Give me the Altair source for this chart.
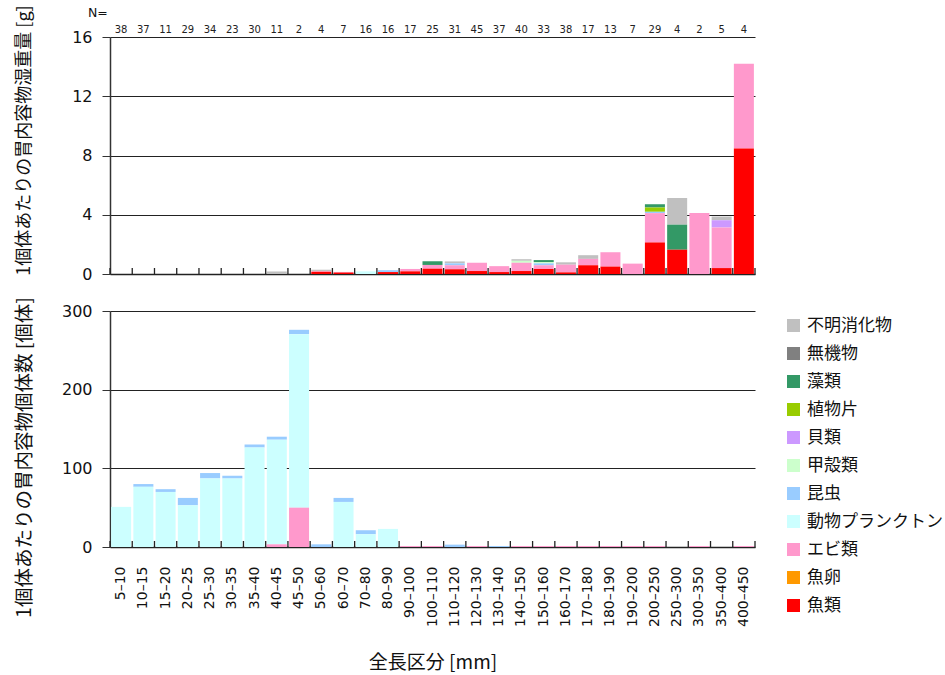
import altair as alt
import pandas as pd

# Total-length classes (mm) and number of fish examined in each
classes = ["5–10", "10–15", "15–20", "20–25", "25–30", "30–35", "35–40", "40–45",
           "45–50", "50–60", "60–70", "70–80", "80–90", "90–100", "100–110",
           "110–120", "120–130", "130–140", "140–150", "150–160", "160–170",
           "170–180", "180–190", "190–200", "200–250", "250–300", "300–350",
           "350–400", "400–450"]
n_fish = [38, 37, 11, 29, 34, 23, 30, 11, 2, 4, 7, 16, 16, 17, 25, 31, 45, 37, 40,
          33, 38, 17, 13, 7, 29, 4, 2, 5, 4]

# Food categories (legend order, top to bottom) and their colours
items = ["不明消化物", "無機物", "藻類", "植物片", "貝類", "甲殻類", "昆虫",
         "動物プランクトン", "エビ類", "魚卵", "魚類"]
colors = ["#C0C0C0", "#808080", "#339966", "#99CC00", "#CC99FF", "#CCFFCC",
          "#99CCFF", "#CCFFFF", "#FF99CC", "#FF9900", "#FF0000"]

# Wet weight of stomach contents per fish [g]
w_unknown = [0, 0, 0, 0, 0, 0, 0, 0.17, 0, 0.1, 0, 0, 0, 0, 0, 0.13, 0, 0, 0.11, 0,
             0.16, 0.25, 0, 0, 0, 1.8, 0, 0.25, 0]
w_inorganic = [0, 0, 0, 0, 0, 0, 0, 0, 0, 0, 0, 0, 0, 0, 0, 0, 0, 0, 0, 0, 0, 0, 0,
               0, 0, 0, 0, 0, 0]
w_algae = [0, 0, 0, 0, 0, 0, 0, 0, 0, 0, 0, 0, 0, 0, 0.25, 0, 0, 0, 0, 0.13, 0, 0,
           0, 0, 0.22, 1.69, 0, 0, 0]
w_plant = [0, 0, 0, 0, 0, 0, 0, 0, 0, 0, 0, 0, 0, 0, 0, 0, 0, 0, 0, 0, 0, 0, 0, 0,
           0.29, 0, 0, 0, 0]
w_shell = [0, 0, 0, 0, 0, 0, 0, 0, 0, 0, 0, 0, 0, 0, 0, 0, 0, 0, 0, 0, 0, 0, 0, 0,
           0, 0, 0, 0.49, 0]
w_crust = [0, 0, 0, 0, 0, 0, 0, 0, 0, 0, 0, 0, 0, 0, 0, 0, 0, 0, 0.13, 0.09, 0, 0,
           0, 0, 0, 0, 0, 0, 0]
w_insect = [0, 0, 0, 0, 0, 0, 0, 0, 0, 0, 0, 0, 0.13, 0, 0, 0.13, 0, 0, 0, 0.13, 0,
            0, 0, 0, 0.09, 0, 0, 0, 0]
w_zoo = [0, 0, 0, 0, 0, 0, 0, 0, 0, 0, 0, 0.18, 0, 0, 0, 0, 0, 0, 0, 0, 0, 0, 0, 0,
         0, 0, 0, 0, 0]
w_shrimp = [0, 0, 0, 0, 0, 0, 0, 0, 0, 0.04, 0.04, 0, 0, 0.16, 0.25, 0.27, 0.56,
            0.4, 0.56, 0.25, 0.52, 0.43, 0.97, 0.7, 1.98, 0, 4.11, 2.74, 5.73]
w_egg = [0, 0, 0, 0, 0, 0, 0, 0, 0, 0, 0, 0, 0, 0, 0, 0, 0, 0, 0, 0, 0, 0, 0, 0, 0,
         0, 0, 0, 0]
w_fish = [0, 0, 0, 0, 0, 0, 0, 0, 0, 0.15, 0.1, 0, 0.13, 0.18, 0.36, 0.32, 0.2,
          0.13, 0.2, 0.34, 0.11, 0.59, 0.5, 0, 2.13, 1.64, 0, 0.4, 8.47]

# Number of food organisms per fish [individuals]
c_zoo = [51, 76.5, 70, 53, 87.2, 87.2, 126.5, 133, 220.5, 0, 57.3, 16.2, 23, 0, 0,
         0, 0, 0, 0, 0, 0, 0, 0, 0, 0, 0, 0, 0, 0]
c_insect = [0, 3.5, 3.5, 9.4, 6.8, 3.4, 3.8, 3.8, 5.6, 3.4, 5.1, 5.1, 0, 0, 0, 3,
            0, 1.2, 0, 0, 0, 0, 0, 0, 0, 0, 0, 0, 0]
c_shrimp = [0, 0, 0, 0, 0, 0, 0, 3.4, 50, 0, 0, 0, 0, 1.2, 1.2, 0, 1.2, 0, 1.2, 1.2,
            1.2, 1.2, 1.2, 1.2, 1.2, 0, 1.2, 0, 1.2]

weights = {"不明消化物": w_unknown, "無機物": w_inorganic, "藻類": w_algae,
           "植物片": w_plant, "貝類": w_shell, "甲殻類": w_crust, "昆虫": w_insect,
           "動物プランクトン": w_zoo, "エビ類": w_shrimp, "魚卵": w_egg, "魚類": w_fish}
counts = {"昆虫": c_insect, "動物プランクトン": c_zoo, "エビ類": c_shrimp}


def long_table(series):
    rows = []
    for item, vals in series.items():
        order = len(items) - 1 - items.index(item)  # 魚類 at the bottom of each stack
        for cls, v in zip(classes, vals):
            if v > 0:
                rows.append({"class": cls, "item": item, "value": v, "ord": order})
    return pd.DataFrame(rows)


wdf = long_table(weights)
cdf = long_table(counts)
ndf = pd.DataFrame({"class": classes, "n": n_fish})
lastdf = ndf.tail(1)

W = 645
H_TOP = 237
H_BOT = 236
GAP = W / len(classes) * 0.1 / 2
JP = "Noto Sans CJK JP"
NUM = "DejaVu Sans"

xscale = alt.Scale(paddingInner=0.1, paddingOuter=0.05)
color_scale = alt.Scale(domain=items, range=colors)


def y_axis(title, values, title_size, title_y):
    return alt.Axis(values=values, title=title, titleFont=JP, titleFontSize=title_size,
                    titleFontWeight="normal", titleColor="#111", titleAngle=270,
                    titleAlign="center", titleBaseline="middle", titleX=-86,
                    titleY=title_y, labelFont=NUM, labelFontSize=16, labelColor="#111",
                    labelPadding=10, tickSize=8, tickColor="#333", domainColor="#333",
                    domainWidth=1.5, grid=True, gridColor="#222", gridWidth=1.2)


def band_ticks(h):
    inner = alt.Chart(ndf).mark_rule(color="#222", strokeWidth=1.3, xOffset=-GAP).encode(
        x=alt.X("class:N", sort=classes, scale=xscale, bandPosition=0),
        y=alt.value(h), y2=alt.value(h - 6))
    last = alt.Chart(lastdf).mark_rule(color="#222", strokeWidth=1.3, xOffset=GAP).encode(
        x=alt.X("class:N", sort=classes, scale=xscale, bandPosition=1),
        y=alt.value(h), y2=alt.value(h - 6))
    return inner + last


# Upper panel: wet weight of stomach contents
top_bars = alt.Chart(wdf).mark_bar().encode(
    x=alt.X("class:N", sort=classes, scale=xscale,
            axis=alt.Axis(labels=False, ticks=False, title=None, domainColor="#222",
                          domainWidth=1.5, grid=False)),
    y=alt.Y("value:Q", stack="zero", scale=alt.Scale(domain=[0, 16]),
            axis=y_axis("1個体あたりの胃内容物湿重量 [g]", [0, 4, 8, 12, 16], 18, 103)),
    color=alt.Color("item:N", scale=color_scale, legend=None),
    order=alt.Order("ord:Q", sort="ascending"),
)
n_text = alt.Chart(ndf).mark_text(baseline="bottom", dy=-2, fontSize=10, font=NUM,
                                   color="#222").encode(
    x=alt.X("class:N", sort=classes, scale=xscale),
    y=alt.datum(16),
    text="n:Q",
)
top = alt.layer(top_bars, n_text, band_ticks(H_TOP)).properties(
    width=W, height=H_TOP,
    title=alt.Title("N=", anchor="start", frame="group", dx=-22, dy=3, fontSize=12.5,
                    font=NUM, fontWeight="normal", color="#111", offset=-12),
)

# Lower panel: number of food organisms
bot_bars = alt.Chart(cdf).mark_bar().encode(
    x=alt.X("class:N", sort=classes, scale=xscale,
            axis=alt.Axis(title="全長区分 [mm]", titleFont=JP, titleFontSize=19,
                          titleFontWeight="normal", titleColor="#111", titlePadding=27,
                          labelAngle=-90, labelAlign="right", labelBaseline="middle",
                          labelFont=NUM, labelFontSize=14, labelColor="#111",
                          labelPadding=19, ticks=False, domainColor="#222",
                          domainWidth=1.5, grid=False)),
    y=alt.Y("value:Q", stack="zero", scale=alt.Scale(domain=[0, 300]),
            axis=y_axis("1個体あたりの胃内容物個体数 [個体]", [0, 100, 200, 300], 19.5, 146)),
    color=alt.Color("item:N", scale=color_scale,
                    legend=alt.Legend(title=None, orient="none", legendX=675, legendY=6,
                                      symbolType="square", symbolSize=170,
                                      symbolStrokeWidth=0, labelFont=JP,
                                      labelFontSize=17, labelColor="#111",
                                      labelOffset=5, rowPadding=10)),
    order=alt.Order("ord:Q", sort="ascending"),
)
bottom = alt.layer(bot_bars, band_ticks(H_BOT)).properties(width=W, height=H_BOT)

chart = alt.vconcat(top, bottom, spacing=14).resolve_legend(
    color="independent"
).properties(
    padding={"left": 14, "top": 4, "right": 0, "bottom": 0}
).configure_view(stroke=None)

chart.save("out.html", embed_options={"renderer": "svg", "actions": False})
